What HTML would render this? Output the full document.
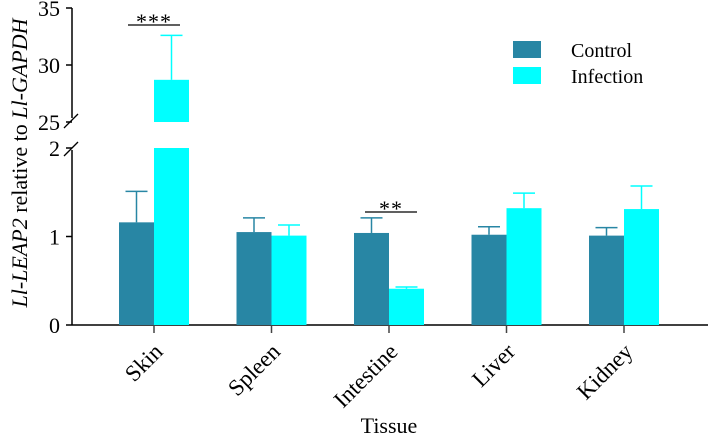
<!DOCTYPE html>
<html><head><meta charset="utf-8"><style>
body{margin:0;background:#fff}
svg{display:block;font-family:"Liberation Serif",serif}
</style></head><body>
<svg id="chart" width="708" height="436">
<g id="g"></g>
</svg>
<script>
const categories=["Skin","Spleen","Intestine","Liver","Kidney"];
const controlVals=[1.16,1.05,1.04,1.02,1.01];
const controlErr=[1.51,1.21,1.21,1.11,1.10];
const infectVals=[28.7,1.01,0.41,1.32,1.31];
const infectErr=[32.6,1.13,0.43,1.49,1.57];
const lowTicks=[0,1,2];
const highTicks=[25,30,35];
const sigLabels=[["***",0],["**",2]];
const NS="http://www.w3.org/2000/svg";
const g=document.getElementById('g');
function el(t,a,txt){const e=document.createElementNS(NS,t);for(const k in a)e.setAttribute(k,a[k]);if(txt!=null)e.textContent=txt;g.appendChild(e);return e;}
const x0=154,step=117.5,bw=35;
function xc(i){return x0+i*step;}
function yLow(v){return 325-v*88.5;}
function yHigh(v){return 122-(v-25)*11.4;}
function yv(v){return v>2?yHigh(v):yLow(v);}
let e;
e=el('line',{x1:72,y1:325,x2:708,y2:325,stroke:'#000','stroke-width':1.5});

e=el('line',{x1:72,y1:8,x2:72,y2:118,stroke:'#000','stroke-width':1.5});

e=el('line',{x1:72,y1:150,x2:72,y2:325,stroke:'#000','stroke-width':1.5});

el('line',{x1:64,y1:128,x2:78,y2:114,stroke:'#000','stroke-width':1.3});
el('line',{x1:64,y1:156,x2:78,y2:142,stroke:'#000','stroke-width':1.3});
lowTicks.forEach(t=>{const y=yLow(t);el('line',{x1:66,y1:y,x2:72,y2:y,stroke:'#000','stroke-width':1.5});
e=el('text',{x:60,y:y+8,'text-anchor':'end','font-size':22},t);
});
highTicks.forEach(t=>{const y=yHigh(t);el('line',{x1:66,y1:y,x2:72,y2:y,stroke:'#000','stroke-width':1.5});
e=el('text',{x:60,y:y+8,'text-anchor':'end','font-size':22},t);
});
function bar(i,v,err,color,off,name){
 const x=xc(i)+off;
 if(v>2){
  e=el('rect',{x:x,y:yLow(2),width:bw,height:325-yLow(2),fill:color});
  
  e=el('rect',{x:x,y:yHigh(v),width:bw,height:yHigh(25)-yHigh(v),fill:color});
  
 }else{
  e=el('rect',{x:x,y:yLow(v),width:bw,height:325-yLow(v),fill:color});
  
 }
 const cx=x+bw/2;
 el('line',{x1:cx,y1:yv(v),x2:cx,y2:yv(err),stroke:color,'stroke-width':1.5});
 e=el('line',{x1:cx-11,y1:yv(err),x2:cx+11,y2:yv(err),stroke:color,'stroke-width':1.5});
 
}
categories.forEach((c,i)=>{
 bar(i,controlVals[i],controlErr[i],'#2886a4',-bw,'bar-control-'+c.toLowerCase());
 bar(i,infectVals[i],infectErr[i],'#00ffff',0,'bar-infection-'+c.toLowerCase());
 el('line',{x1:xc(i),y1:325,x2:xc(i),y2:333,stroke:'#444','stroke-width':1.5});
 e=el('text',{x:0,y:0,'text-anchor':'end','font-size':23,transform:`translate(${xc(i)+10},${353}) rotate(-45)`},c);
 
});
sigLabels.forEach(([s,i])=>{
 const y=i===0?25:212;
 const x1=i===0?128:365,x2=i===0?180:417;
 e=el('line',{x1:x1,y1:y,x2:x2,y2:y,stroke:'#000','stroke-width':1.3});
 
 e=el('text',{x:(x1+x2)/2,y:y+4,'text-anchor':'middle','font-size':22,'letter-spacing':1},s);
 
});
e=el('rect',{x:513,y:41,width:28,height:17,fill:'#2886a4'});

e=el('rect',{x:513,y:67,width:28,height:17,fill:'#00ffff'});

e=el('text',{x:571,y:57,'font-size':20},'Control');

e=el('text',{x:571,y:83,'font-size':20},'Infection');

e=el('text',{x:389,y:433,'text-anchor':'middle','font-size':22},'Tissue');

e=el('text',{x:0,y:0,'text-anchor':'middle','font-size':22,transform:'translate(27,163) rotate(-90)'});

e.innerHTML='<tspan font-style="italic">Ll-LEAP2</tspan> relative to <tspan font-style="italic">Ll-GAPDH</tspan>';
</script>
</body></html>
